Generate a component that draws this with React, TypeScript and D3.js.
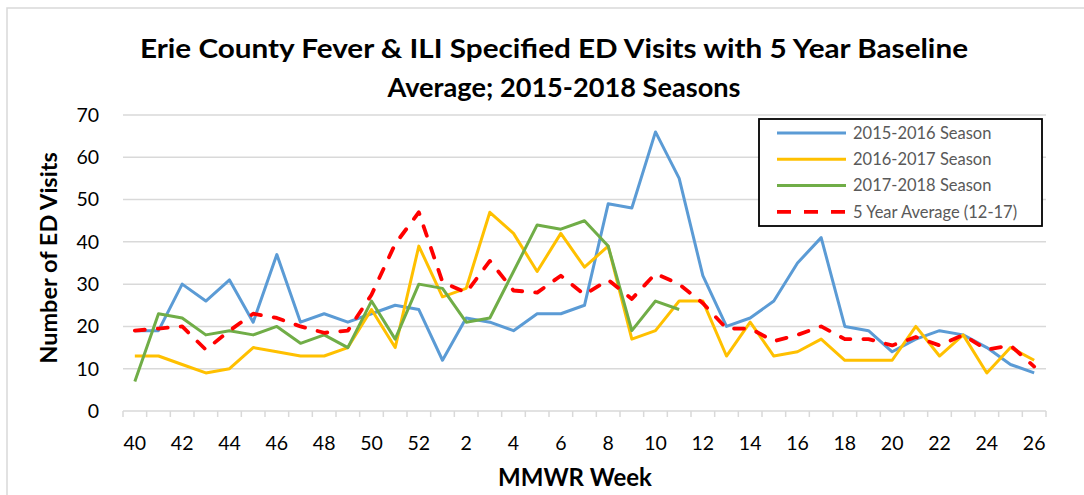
import React from "react";
import * as d3 from "d3";

const width = 1084;
const height = 495;
const margin = { top: 115, right: 38, bottom: 84, left: 123 };

// MMWR weeks, season runs from week 40 to week 26 of the next year
const weeks = [
  "40", "41", "42", "43", "44", "45", "46", "47", "48", "49", "50", "51", "52",
  "1", "2", "3", "4", "5", "6", "7", "8", "9", "10", "11", "12", "13",
  "14", "15", "16", "17", "18", "19", "20", "21", "22", "23", "24", "25", "26"
];

const season1516 = [
  19, 19, 30, 26, 31, 21, 37, 21, 23, 21, 23, 25, 24,
  12, 22, 21, 19, 23, 23, 25, 49, 48, 66, 55, 32, 20,
  22, 26, 35, 41, 20, 19, 14, 17, 19, 18, 15, 11, 9
];

const season1617 = [
  13, 13, 11, 9, 10, 15, 14, 13, 13, 15, 24, 15, 39,
  27, 29, 47, 42, 33, 42, 34, 39, 17, 19, 26, 26, 13,
  21, 13, 14, 17, 12, 12, 12, 20, 13, 18, 9, 15, 12
];

// current season only goes up to week 11
const season1718 = [
  7, 23, 22, 18, 19, 18, 20, 16, 18, 15, 26, 17, 30,
  29, 21, 22, 33, 44, 43, 45, 39, 19, 26, 24
];

const fiveYearAvg = [
  19, 19.5, 20, 14.5, 19, 23, 22, 20, 18.5, 19, 27.5, 39.5, 47,
  30.5, 28, 35.5, 28.5, 28, 32, 27.5, 31, 26.5, 32.5, 30, 25.5, 19.5,
  19.5, 16.5, 18, 20, 17, 17, 15.5, 17.5, 15.5, 18, 14.5, 15.5, 10.5
];

const yTicks = [0, 10, 20, 30, 40, 50, 60, 70];

const series = [
  { name: "2015-2016 Season", values: season1516, color: "#5B9BD5", dash: false },
  { name: "2016-2017 Season", values: season1617, color: "#FFC000", dash: false },
  { name: "2017-2018 Season", values: season1718, color: "#70AD47", dash: false },
  { name: "5 Year Average (12-17)", values: fiveYearAvg, color: "#FF0000", dash: true }
];

const font = "Lato, 'Open Sans', sans-serif";

export default function App() {
  const xScale = d3
    .scalePoint<string>()
    .domain(weeks)
    .range([margin.left, width - margin.right])
    .padding(0.5);

  const yScale = d3
    .scaleLinear()
    .domain([0, 70])
    .range([height - margin.bottom, margin.top]);

  const step = xScale.step();
  const x0 = height - margin.bottom;

  const line = d3
    .line<number>()
    .x((d, i) => xScale(weeks[i]) as number)
    .y(d => yScale(d));

  // tick marks sit between categories
  const tickXs = weeks.map(w => (xScale(w) as number) - step / 2);
  tickXs.push(width - margin.right);

  return (
    <svg
      width={width}
      height={height}
      style={{ position: "absolute", left: 0, top: 0, background: "#fff" }}
    >
      <rect x={7} y={8} width={1100} height={520} fill="#fff" stroke="#d9d9d9" strokeWidth={1.5} />

      <text
        x={554}
        y={58}
        textAnchor="middle"
        fontFamily={font}
        fontWeight="bold"
        fontSize={27}
        textLength={828}
        lengthAdjust="spacingAndGlyphs"
      >
        Erie County Fever &amp; ILI Specified ED Visits with 5 Year Baseline
      </text>
      <text
        x={564}
        y={97}
        textAnchor="middle"
        fontFamily={font}
        fontWeight="bold"
        fontSize={27}
        textLength={353}
        lengthAdjust="spacingAndGlyphs"
      >
        Average; 2015-2018 Seasons
      </text>

      {/* gridlines + y labels */}
      {yTicks.map(t => (
        <g key={t}>
          {t > 0 && (
            <line
              x1={margin.left}
              x2={width - margin.right}
              y1={yScale(t)}
              y2={yScale(t)}
              stroke="#d9d9d9"
              strokeWidth={1.5}
            />
          )}
          <text
            x={99}
            y={yScale(t)}
            dy="0.35em"
            textAnchor="end"
            fontFamily={font}
            fontSize={19.5}
            fill="#000"
          >
            {t}
          </text>
        </g>
      ))}

      {/* x axis */}
      <line x1={margin.left} x2={width - margin.right} y1={x0} y2={x0} stroke="#d9d9d9" strokeWidth={1.5} />
      {tickXs.map((tx, i) => (
        <line key={i} x1={tx} x2={tx} y1={x0} y2={x0 + 6} stroke="#d9d9d9" strokeWidth={1.5} />
      ))}
      {weeks.map((w, i) =>
        i % 2 === 0 ? (
          <text
            key={w}
            x={xScale(w)}
            y={450}
            textAnchor="middle"
            fontFamily={font}
            fontSize={19.5}
          >
            {w}
          </text>
        ) : null
      )}

      <text x={575} y={486} textAnchor="middle" fontFamily={font} fontWeight="bold" fontSize={24}>
        MMWR Week
      </text>
      <text
        transform={`translate(57, 258) rotate(-90)`}
        textAnchor="middle"
        fontFamily={font}
        fontWeight="bold"
        fontSize={23.5}
      >
        Number of ED Visits
      </text>

      {/* series */}
      {series.map(s => (
        <path
          key={s.name}
          d={line(s.values) as string}
          fill="none"
          stroke={s.color}
          strokeWidth={s.dash ? 3.8 : 3}
          strokeDasharray={s.dash ? "10 13" : undefined}
          strokeLinejoin="round"
          strokeLinecap={s.dash ? "round" : "butt"}
        />
      ))}

      {/* legend */}
      <rect x={759} y={119} width={283} height={107} fill="#fff" stroke="#000" strokeWidth={1.8} />
      {series.map((s, i) => {
        const ly = 133 + i * 26.3;
        return (
          <g key={s.name}>
            <line
              x1={777}
              x2={846}
              y1={ly}
              y2={ly}
              stroke={s.color}
              strokeWidth={s.dash ? 3.8 : 3}
              strokeDasharray={s.dash ? "14 13" : undefined}
              strokeLinecap="butt"
            />
            <text x={853} y={ly} dy="0.35em" fontFamily={font} fontSize={16.5} fill="#595959">
              {s.name}
            </text>
          </g>
        );
      })}
    </svg>
  );
}
